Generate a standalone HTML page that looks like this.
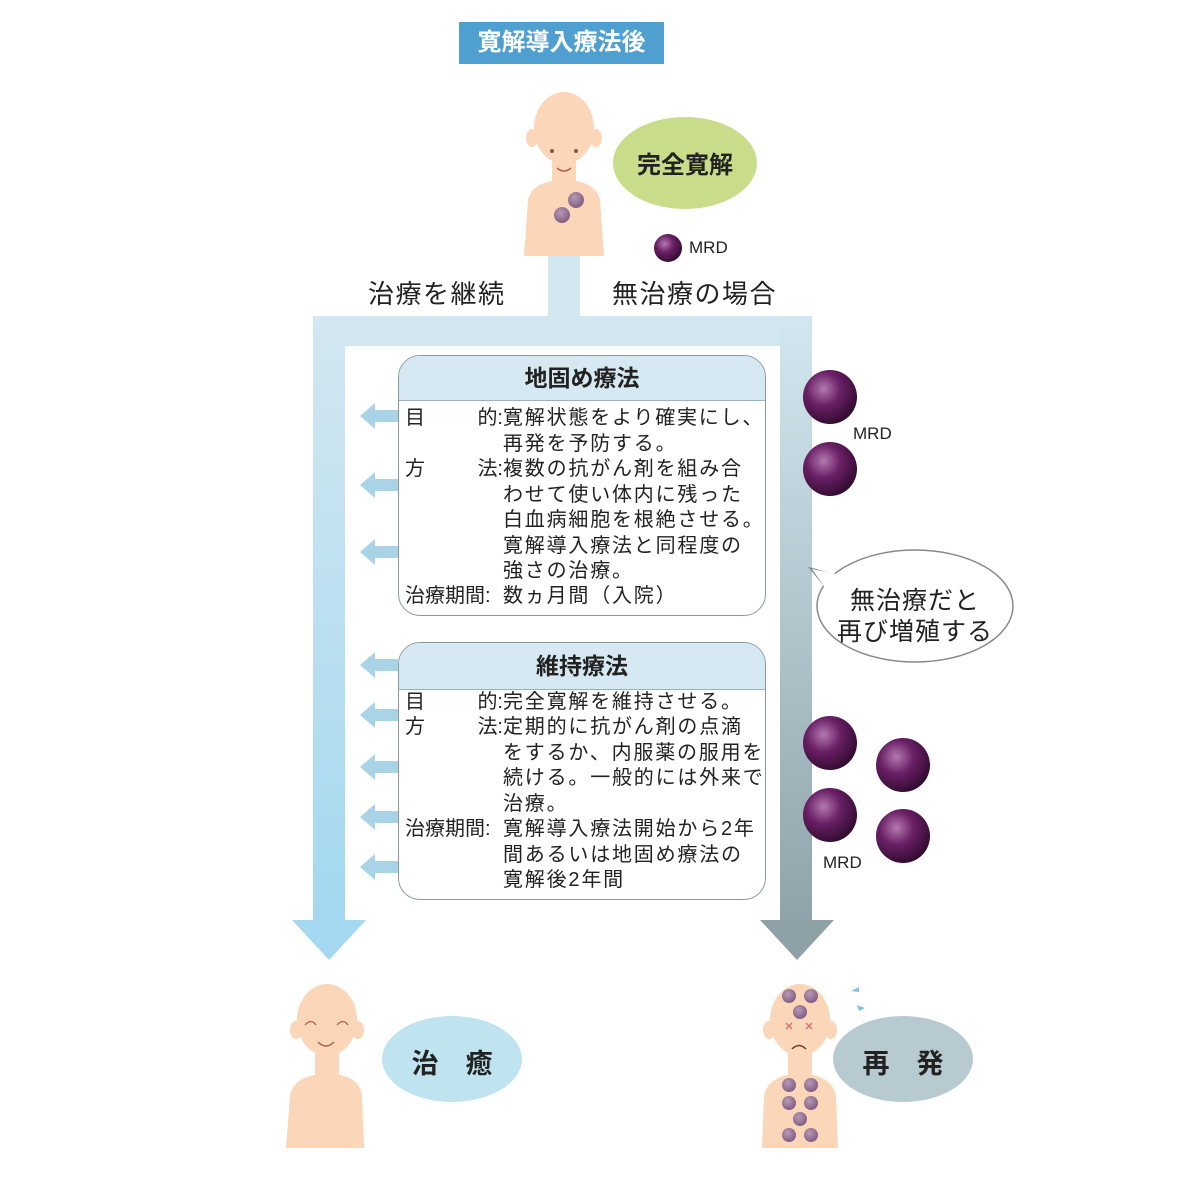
<!DOCTYPE html>
<html><head><meta charset="utf-8">
<style>
body{margin:0;width:1182px;height:1182px;background:#fff;position:relative;overflow:hidden;font-family:"Liberation Sans","Noto Sans CJK JP",sans-serif;color:#222}
.a{position:absolute}
.t{position:absolute;font-size:20px;line-height:25.5px;white-space:nowrap;letter-spacing:1.8px}
.box{position:absolute;left:398px;width:366px;border:1.5px solid #8a9aa3;border-radius:22px;background:#fff;overflow:hidden}
.hd{background:#d6e8f2;border-bottom:1.5px solid #9bb3c0;text-align:center;font-weight:bold;font-size:23px}
</style></head><body>
<svg class="a" style="left:0;top:0" width="1182" height="1182">
<defs>
<radialGradient id="ball" cx="0.38" cy="0.35" r="0.7"><stop offset="0" stop-color="#b27ab0"/><stop offset="0.45" stop-color="#6a1f66"/><stop offset="1" stop-color="#2e0a2c"/></radialGradient>
<radialGradient id="sb" cx="0.4" cy="0.35" r="0.7"><stop offset="0" stop-color="#b79ab6"/><stop offset="1" stop-color="#7e5a80"/></radialGradient>
<linearGradient id="rg" x1="0" y1="0" x2="0" y2="1"><stop offset="0" stop-color="#d3e7f0"/><stop offset="1" stop-color="#8fa3aa"/></linearGradient>
<linearGradient id="lg" x1="0" y1="0" x2="0" y2="1"><stop offset="0" stop-color="#d3e7f0"/><stop offset="1" stop-color="#a3d8f0"/></linearGradient>
</defs>
<rect x="548" y="228" width="32" height="100" fill="#d3e7f0"/>
<rect x="313" y="316" width="499" height="30" fill="#d3e7f0"/>
<rect x="313" y="316" width="32" height="606" fill="url(#lg)"/>
<polygon points="292,920 366,920 329,960" fill="#a5d8f1"/>
<rect x="780" y="316" width="32" height="606" fill="url(#rg)"/>
<polygon points="760,920 834,920 797,960" fill="#8ea1a6"/>
<g fill="#a9d4e8">
<g transform="translate(0,416)"><polygon points="360,0 375,-13 375,-6 398,-6 398,6 375,6 375,13"/></g>
<g transform="translate(0,485)"><polygon points="360,0 375,-13 375,-6 398,-6 398,6 375,6 375,13"/></g>
<g transform="translate(0,552)"><polygon points="360,0 375,-13 375,-6 398,-6 398,6 375,6 375,13"/></g>
<g transform="translate(0,665)"><polygon points="360,0 375,-13 375,-6 398,-6 398,6 375,6 375,13"/></g>
<g transform="translate(0,715)"><polygon points="360,0 375,-13 375,-6 398,-6 398,6 375,6 375,13"/></g>
<g transform="translate(0,767)"><polygon points="360,0 375,-13 375,-6 398,-6 398,6 375,6 375,13"/></g>
<g transform="translate(0,817)"><polygon points="360,0 375,-13 375,-6 398,-6 398,6 375,6 375,13"/></g>
<g transform="translate(0,867)"><polygon points="360,0 375,-13 375,-6 398,-6 398,6 375,6 375,13"/></g>
</g>
<rect x="459" y="22" width="205" height="42" fill="#4f9fd1"/>
<g fill="#fbd6b8">
<ellipse cx="564" cy="128" rx="30" ry="36"/>
<ellipse cx="532" cy="138" rx="6" ry="9"/><ellipse cx="596" cy="138" rx="6" ry="9"/>
<rect x="552" y="155" width="24" height="30"/>
<path d="M528,200 Q532,182 560,180 L568,180 Q596,182 600,200 L604,256 L524,256 Z"/>
</g>
<circle cx="552" cy="151" r="2" fill="#7a5a4a"/><circle cx="576" cy="151" r="2" fill="#7a5a4a"/>
<path d="M557,168 Q564,174 571,168" stroke="#b06050" stroke-width="1.5" fill="none"/>
<circle cx="576" cy="200" r="8" fill="url(#sb)"/><circle cx="562" cy="215" r="8" fill="url(#sb)"/>
<ellipse cx="685" cy="163" rx="72" ry="46" fill="#c8dc8a"/>
<circle cx="668" cy="248" r="14" fill="url(#ball)"/>
<circle cx="830" cy="397" r="27" fill="url(#ball)"/>
<circle cx="830" cy="469" r="27" fill="url(#ball)"/>
<circle cx="830" cy="743" r="27" fill="url(#ball)"/>
<circle cx="903" cy="765" r="27" fill="url(#ball)"/>
<circle cx="830" cy="815" r="27" fill="url(#ball)"/>
<circle cx="903" cy="836" r="27" fill="url(#ball)"/>
<path d="M828,590 L810,568 L838,576" fill="#fff" stroke="#888" stroke-width="1.5"/>
<ellipse cx="915" cy="606" rx="98" ry="56" fill="#fff" stroke="#888" stroke-width="1.5"/>
<path d="M836,574 L812,569 L828,592" fill="#fff"/>
<g fill="#fbd6b8">
<ellipse cx="327" cy="1020" rx="30" ry="36"/>
<ellipse cx="296" cy="1030" rx="6" ry="9"/><ellipse cx="358" cy="1030" rx="6" ry="9"/>
<rect x="315" y="1050" width="24" height="30"/>
<path d="M290,1096 Q294,1076 322,1074 L332,1074 Q360,1076 362,1096 L364,1148 L286,1148 Z"/>
</g>
<path d="M305,1025 Q311,1018 316,1025 M337,1025 Q343,1018 348,1025" stroke="#b06050" stroke-width="1.3" fill="none"/>
<path d="M318,1042 Q326,1050 334,1042" stroke="#b06050" stroke-width="1.5" fill="none"/>
<ellipse cx="452" cy="1059" rx="70" ry="43" fill="#bfe4f0"/>
<g fill="#fbd6b8">
<ellipse cx="800" cy="1020" rx="30" ry="36"/>
<ellipse cx="769" cy="1030" rx="6" ry="9"/><ellipse cx="831" cy="1030" rx="6" ry="9"/>
<rect x="788" y="1050" width="24" height="30"/>
<path d="M764,1096 Q768,1076 795,1074 L805,1074 Q832,1076 836,1096 L838,1148 L762,1148 Z"/>
</g>
<g fill="url(#sb)">
<circle cx="789" cy="996" r="7"/><circle cx="811" cy="996" r="7"/><circle cx="800" cy="1012" r="7"/>
<circle cx="789" cy="1085" r="7"/><circle cx="811" cy="1085" r="7"/><circle cx="789" cy="1103" r="7"/><circle cx="811" cy="1103" r="7"/>
<circle cx="800" cy="1119" r="7"/><circle cx="789" cy="1135" r="7"/><circle cx="811" cy="1135" r="7"/>
</g>
<path d="M786,1023 l6,6 m0,-6 l-6,6 M806,1023 l6,6 m0,-6 l-6,6" stroke="#d07070" stroke-width="1.3"/>
<path d="M792,1049 Q799,1042 806,1049" stroke="#704030" stroke-width="1.5" fill="none"/>
<path d="M851,991 l8,-4 l0,5 z M857,1005 l8,3 l-6,3 z" fill="#7dc2e6"/>
<ellipse cx="903" cy="1059" rx="70" ry="43" fill="#b7cad0"/>
</svg>

<div class="a" style="left:459px;top:22px;width:205px;height:42px;line-height:42px;text-align:center;color:#fff;font-weight:bold;font-size:24px">寛解導入療法後</div>
<div class="a" style="left:613px;top:145px;width:144px;text-align:center;font-weight:bold;font-size:24px">完全寛解</div>
<div class="a" style="left:689px;top:238px;font-size:17px">MRD</div>
<div class="a" style="left:368px;top:274px;font-size:26px;letter-spacing:1.5px">治療を継続</div>
<div class="a" style="left:612px;top:274px;font-size:26px;letter-spacing:1.5px">無治療の場合</div>
<div class="a" style="left:853px;top:424px;font-size:17px">MRD</div>
<div class="a" style="left:823px;top:853px;font-size:17px">MRD</div>
<div class="a" style="left:817px;top:586px;width:196px;text-align:center;font-size:25px;line-height:31px;letter-spacing:1px">無治療だと<br>再び増殖する</div>
<div class="a" style="left:382px;top:1042px;width:140px;text-align:center;font-weight:bold;font-size:27px">治　癒</div>
<div class="a" style="left:833px;top:1042px;width:140px;text-align:center;font-weight:bold;font-size:27px">再　発</div>

<div class="box" style="top:355px;height:259px">
<div class="hd" style="height:44px;line-height:44px">地固め療法</div>
</div>
<div class="t" style="left:405px;top:406px">目</div>
<div class="t" style="left:405px;top:406px;width:98px;text-align:right;letter-spacing:0">的:</div>
<div class="t" style="left:503px;top:406px">寛解状態をより確実にし、<br>再発を予防する。</div>
<div class="t" style="left:405px;top:457px">方</div>
<div class="t" style="left:405px;top:457px;width:98px;text-align:right;letter-spacing:0">法:</div>
<div class="t" style="left:503px;top:457px">複数の抗がん剤を組み合<br>わせて使い体内に残った<br>白血病細胞を根絶させる。<br>寛解導入療法と同程度の<br>強さの治療。</div>
<div class="t" style="left:405px;top:584px;letter-spacing:0">治療期間:</div>
<div class="t" style="left:503px;top:584px">数ヵ月間（入院）</div>

<div class="box" style="top:642px;height:256px">
<div class="hd" style="height:46px;line-height:46px">維持療法</div>
</div>
<div class="t" style="left:405px;top:690px">目</div>
<div class="t" style="left:405px;top:690px;width:98px;text-align:right;letter-spacing:0">的:</div>
<div class="t" style="left:503px;top:690px">完全寛解を維持させる。</div>
<div class="t" style="left:405px;top:715px">方</div>
<div class="t" style="left:405px;top:715px;width:98px;text-align:right;letter-spacing:0">法:</div>
<div class="t" style="left:503px;top:715px">定期的に抗がん剤の点滴<br>をするか、内服薬の服用を<br>続ける。一般的には外来で<br>治療。</div>
<div class="t" style="left:405px;top:817px;letter-spacing:0">治療期間:</div>
<div class="t" style="left:503px;top:817px">寛解導入療法開始から2年<br>間あるいは地固め療法の<br>寛解後2年間</div>
</body></html>
